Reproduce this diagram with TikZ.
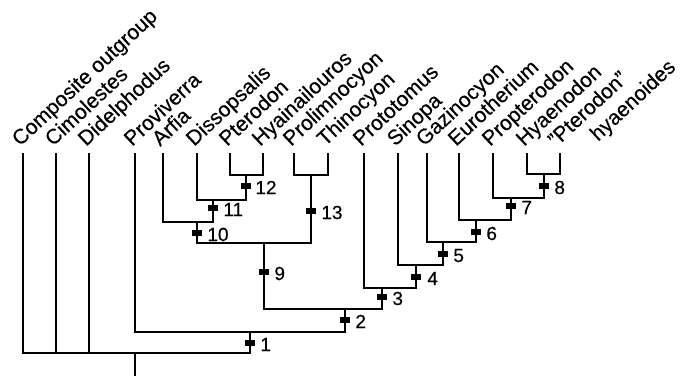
\documentclass[tikz,border=0pt]{standalone}
\usepackage{fontspec}
\setmainfont{Liberation Sans}[FakeBold=0.35]
\begin{document}
\begin{tikzpicture}[x=1pt,y=-1pt,
  br/.style={line width=2.2pt, line join=miter, line cap=rect},
  taxon/.style={anchor=base west, rotate=43, inner sep=0pt, font=\fontsize{21}{25}\selectfont},
  tickbox/.style={fill=black, draw=none, inner sep=0pt, minimum width=10pt, minimum height=6pt},
  num/.style={anchor=west, inner sep=0pt, yshift=-1.5pt, font=\fontsize{19}{22}\selectfont}]
\useasboundingbox (0,0) rectangle (689,379);
% leaf tips
\coordinate (L1) at (23,154);
\coordinate (L2) at (56,154);
\coordinate (L3) at (89,154);
\coordinate (L4) at (135,154);
\coordinate (L5) at (163,154);
\coordinate (L6) at (197,154);
\coordinate (L7) at (230,154);
\coordinate (L8) at (263,154);
\coordinate (L9) at (294,154);
\coordinate (L10) at (328,154);
\coordinate (L11) at (364,154);
\coordinate (L12) at (398,154);
\coordinate (L13) at (427,154);
\coordinate (L14) at (459,154);
\coordinate (L15) at (493,154);
\coordinate (L16) at (527,154);
\coordinate (L17) at (560,154);
% taxon labels
\node[taxon] (T1) at (20,147) {Composite outgroup};
\node[taxon] (T2) at (53,147) {Cimolestes};
\node[taxon] (T3) at (86,147) {Didelphodus};
\node[taxon] (T4) at (132,147) {Proviverra};
\node[taxon] (T5) at (160,147) {Arfia};
\node[taxon] (T6) at (194,147) {Dissopsalis};
\node[taxon] (T7) at (227,147) {Pterodon};
\node[taxon] (T8) at (260,147) {Hyainailouros};
\node[taxon] (T9) at (291,147) {Prolimnocyon};
\node[taxon] (T10) at (325,147) {Thinocyon};
\node[taxon] (T11) at (361,147) {Prototomus};
\node[taxon] (T12) at (395,147) {Sinopa};
\node[taxon] (T13) at (424,147) {Gazinocyon};
\node[taxon] (T14) at (456,147) {Eurotherium};
\node[taxon] (T15) at (490,147) {Propterodon};
\node[taxon] (T16) at (524,147) {Hyaenodon};
\node[taxon] (T17) at (556,148) {"Pterodon"};
\node[taxon] (T17b) at (598,142) {hyaenoides};
% internal nodes
\coordinate (root) at (135,353);
\coordinate (rootbase) at (135,375);
\coordinate (n1) at (250,332);
\coordinate (n2) at (345,309);
\coordinate (n3) at (382,288);
\coordinate (n4) at (416,265);
\coordinate (n5) at (443,242);
\coordinate (n6) at (476,220);
\coordinate (n7) at (511,198);
\coordinate (n8) at (544,174);
\coordinate (n9) at (264,243);
\coordinate (n10) at (197,222);
\coordinate (n11) at (213,200);
\coordinate (n12) at (246,175);
\coordinate (n13) at (311,175);
% branches
\draw[br] (root) -- (rootbase);
\draw[br] (root) -| (L1);
\draw[br] (root) -| (L2);
\draw[br] (root) -| (L3);
\draw[br] (root) -| (n1);
\draw[br] (n1) -| (L4);
\draw[br] (n1) -| (n2);
\draw[br] (n2) -| (n9);
\draw[br] (n2) -| (n3);
\draw[br] (n9) -| (n10);
\draw[br] (n9) -| (n13);
\draw[br] (n10) -| (L5);
\draw[br] (n10) -| (n11);
\draw[br] (n11) -| (L6);
\draw[br] (n11) -| (n12);
\draw[br] (n12) -| (L7);
\draw[br] (n12) -| (L8);
\draw[br] (n13) -| (L9);
\draw[br] (n13) -| (L10);
\draw[br] (n3) -| (L11);
\draw[br] (n3) -| (n4);
\draw[br] (n4) -| (L12);
\draw[br] (n4) -| (n5);
\draw[br] (n5) -| (L13);
\draw[br] (n5) -| (n6);
\draw[br] (n6) -| (L14);
\draw[br] (n6) -| (n7);
\draw[br] (n7) -| (L15);
\draw[br] (n7) -| (n8);
\draw[br] (n8) -| (L16);
\draw[br] (n8) -| (L17);
% ticks and numbers
\node[tickbox] (k1) at (250,343) {};
\node[num] (m1) at ([xshift=5pt]k1.east) {1};
\node[tickbox] (k2) at (345,320) {};
\node[num] (m2) at ([xshift=5pt]k2.east) {2};
\node[tickbox] (k3) at (382,297) {};
\node[num] (m3) at ([xshift=5pt]k3.east) {3};
\node[tickbox] (k4) at (416,277) {};
\node[num] (m4) at ([xshift=6pt]k4.east) {4};
\node[tickbox] (k5) at (443,254) {};
\node[num] (m5) at ([xshift=5pt]k5.east) {5};
\node[tickbox] (k6) at (476,232) {};
\node[num] (m6) at ([xshift=5pt]k6.east) {6};
\node[tickbox] (k7) at (511,206) {};
\node[num] (m7) at ([xshift=5pt]k7.east) {7};
\node[tickbox] (k8) at (544,186) {};
\node[num] (m8) at ([xshift=5pt]k8.east) {8};
\node[tickbox] (k9) at (264,272) {};
\node[num] (m9) at ([xshift=5pt]k9.east) {9};
\node[tickbox] (k10) at (197,233) {};
\node[num] (m10) at ([xshift=5pt]k10.east) {10};
\node[tickbox] (k11) at (213,208) {};
\node[num] (m11) at ([xshift=5pt]k11.east) {11};
\node[tickbox] (k12) at (246,186) {};
\node[num] (m12) at ([xshift=4pt]k12.east) {12};
\node[tickbox] (k13) at (311,211) {};
\node[num] (m13) at ([xshift=5pt]k13.east) {13};
\end{tikzpicture}
\end{document}
